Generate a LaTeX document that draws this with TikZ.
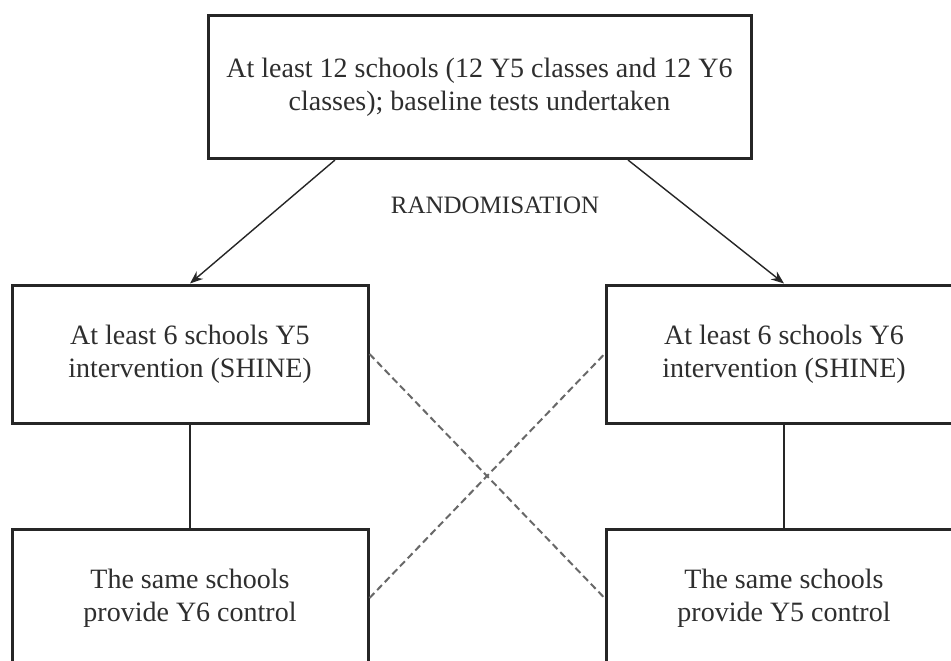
\documentclass[tikz,border=0pt]{standalone}
\usepackage{fontspec}
\setmainfont{Liberation Serif}
\usetikzlibrary{arrows.meta}
\definecolor{txt}{HTML}{2E2E2E}
\definecolor{edge}{HTML}{262626}
\definecolor{dash}{HTML}{686868}
\begin{document}
\begin{tikzpicture}[x=1pt,y=-1pt,
  box/.style={draw=edge, line width=3pt, fill=white, align=center, text=txt,
    font=\fontsize{28}{33}\selectfont, inner sep=0pt},
  conn/.style={draw=edge, line width=1.4pt},
  arrowconn/.style={draw=edge, line width=1.4pt, -{Stealth[length=13pt,width=10pt]}},
  crossconn/.style={draw=dash, line width=2pt, dash pattern=on 7pt off 4pt},
  lbl/.style={text=txt, font=\fontsize{25}{28}\selectfont}]
\useasboundingbox (0,0) rectangle (951,661);
\clip (0,0) rectangle (951,661);
\fill[white] (0,0) rectangle (951,661);
\node[box, minimum width=543pt, minimum height=143pt] (top) at (479.5,87) {At least 12 schools (12 Y5 classes and 12 Y6\\classes); baseline tests undertaken};
\node[box, minimum width=356pt, minimum height=138pt] (ml) at (190,354) {At least 6 schools Y5\\intervention (SHINE)};
\node[box, minimum width=356pt, minimum height=138pt] (mr) at (784,354) {At least 6 schools Y6\\intervention (SHINE)};
\node[box, minimum width=356pt, minimum height=138pt] (bl) at (190,598) {The same schools\\provide Y6 control};
\node[box, minimum width=356pt, minimum height=138pt] (br) at (784,598) {The same schools\\provide Y5 control};
\node[lbl] (rand) at (495,205) {RANDOMISATION};
\draw[arrowconn] (335,0 |- top.south) -- (ml.north);
\draw[arrowconn] (628,0 |- top.south) -- (mr.north);
\draw[conn] (ml.south) -- (bl.north);
\draw[conn] (mr.south) -- (br.north);
\draw[crossconn] (ml.east) -- (br.west);
\draw[crossconn] (bl.east) -- (mr.west);
\end{tikzpicture}
\end{document}
